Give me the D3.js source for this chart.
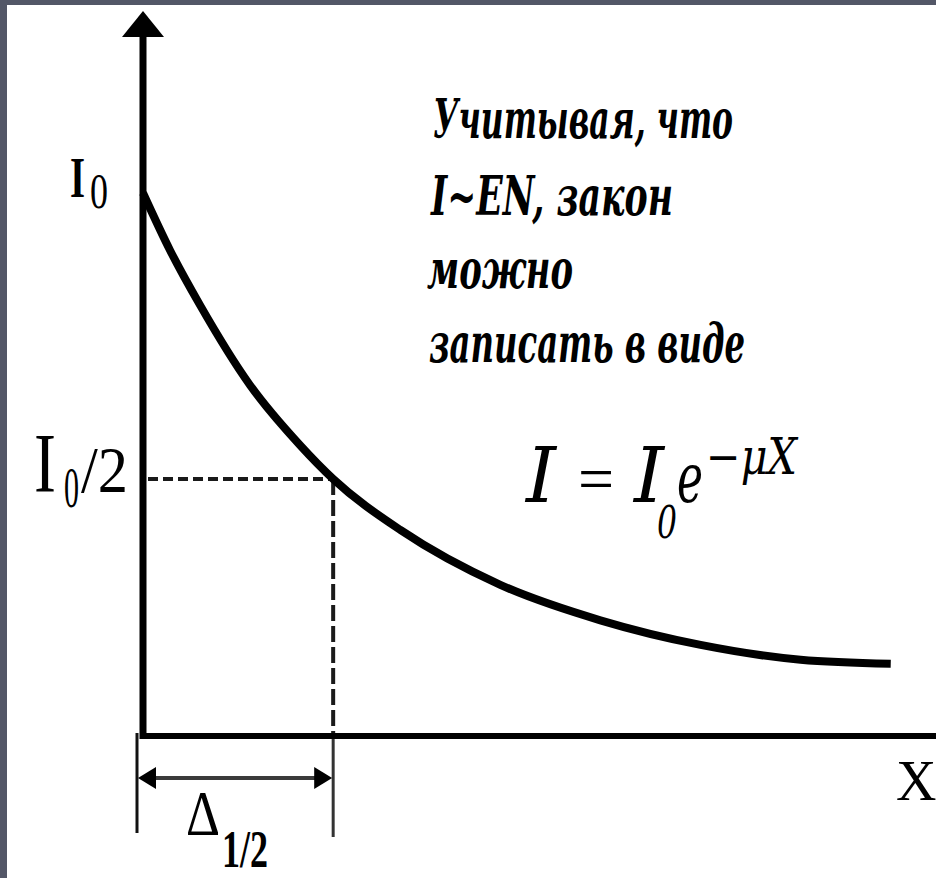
<!DOCTYPE html>
<html>
<head>
<meta charset="utf-8">
<script src="https://cdn.jsdelivr.net/npm/d3@7"></script>
<style>
  html, body { margin: 0; padding: 0; background: #535767; }
  svg { display: block; }
</style>
</head>
<body>
<svg id="chart" width="936" height="878"></svg>
<script>
// Attenuation curve I(x): x in units of the half-value thickness Δ1/2, I in units of I0
const curveX = [0, 0.142, 0.30, 0.563, 0.826, 1.0, 1.353, 1.879, 2.405, 2.932, 3.458, 3.932];
const curveI = [1.0, 0.900, 0.804, 0.664, 0.559, 0.5, 0.411, 0.315, 0.253, 0.210, 0.184, 0.177];

// Marked levels on the intensity axis and the half-value thickness on the X axis
const yTickValues = [1, 0.5];
const yTickMain = ["I", "I"];
const yTickSub = ["0", "0"];
const yTickTail = ["", "/2"];
const halfX = 1;
const halfI = 0.5;

// Annotation text
const noteLines = ["Учитывая, что", "I~EN, закон", "можно", "записать в виде"];

const svg = d3.select("#chart");
const W = 936, H = 878;

// white sheet with the frame strip on the left and top
svg.append("rect").attr("x", 7).attr("y", 5).attr("width", W - 7).attr("height", H - 5).attr("fill", "#ffffff");

const x = d3.scaleLinear().domain([0, 4.17]).range([143, 936]);
const y = d3.scaleLinear().domain([0.0525, 1]).range([735, 193]);

const serif = "'Liberation Serif', 'Times New Roman', serif";
const italicSerif = "'DejaVu Serif', 'Liberation Serif', serif";

function label(txt, px, py, size, o = {}) {
  const t = svg.append("text")
    .attr("x", px).attr("y", py)
    .attr("font-family", o.family || serif)
    .attr("font-size", size)
    .attr("font-weight", o.weight || "normal")
    .attr("font-style", o.style || "normal")
    .attr("fill", o.fill || "#000")
    .text(txt);
  if (o.len) t.attr("textLength", o.len).attr("lengthAdjust", "spacingAndGlyphs");
  return t;
}

// dashed guides to the half-value point
svg.append("line")
  .attr("x1", x(0) + 5).attr("x2", x(halfX))
  .attr("y1", y(halfI)).attr("y2", y(halfI))
  .attr("stroke", "#1a1a1a").attr("stroke-width", 4)
  .attr("stroke-dasharray", "10,5");
svg.append("line")
  .attr("x1", x(halfX)).attr("x2", x(halfX))
  .attr("y1", y(halfI)).attr("y2", y.range()[0])
  .attr("stroke", "#1a1a1a").attr("stroke-width", 4)
  .attr("stroke-dasharray", "16,5");

// extension lines of the Δ1/2 dimension
svg.append("line")
  .attr("x1", x(0) - 6).attr("x2", x(0) - 6)
  .attr("y1", y.range()[0] - 2).attr("y2", 833)
  .attr("stroke", "#111").attr("stroke-width", 3);
svg.append("line")
  .attr("x1", x(halfX)).attr("x2", x(halfX))
  .attr("y1", y.range()[0]).attr("y2", 837)
  .attr("stroke", "#333").attr("stroke-width", 3);

// dimension line with arrowheads
const dimY = 778;
const dx0 = x(0) - 5, dx1 = x(halfX) - 1;
svg.append("line")
  .attr("x1", dx0 + 14).attr("x2", dx1 - 14)
  .attr("y1", dimY).attr("y2", dimY)
  .attr("stroke", "#3a3a3a").attr("stroke-width", 4);
svg.append("path")
  .attr("d", `M${dx0},${dimY} L${dx0 + 18},${dimY - 11} L${dx0 + 18},${dimY + 11} Z`)
  .attr("fill", "#000");
svg.append("path")
  .attr("d", `M${dx1},${dimY} L${dx1 - 18},${dimY - 11} L${dx1 - 18},${dimY + 11} Z`)
  .attr("fill", "#000");

// axes
svg.append("line")
  .attr("x1", x(0) - 3).attr("x2", W)
  .attr("y1", y.range()[0] + 1).attr("y2", y.range()[0] + 1)
  .attr("stroke", "#000").attr("stroke-width", 6);
svg.append("line")
  .attr("x1", x(0)).attr("x2", x(0))
  .attr("y1", 36).attr("y2", y.range()[0] + 4)
  .attr("stroke", "#000").attr("stroke-width", 7);
svg.append("path")
  .attr("d", `M${x(0)},11 L${x(0) - 21},37 L${x(0) + 21},37 Z`)
  .attr("fill", "#000");

// the attenuation curve
const pts = curveX.map((v, i) => [v, curveI[i]]);
svg.append("path")
  .datum(pts)
  .attr("d", d3.line().x(d => x(d[0])).y(d => y(d[1])).curve(d3.curveMonotoneX))
  .attr("fill", "none")
  .attr("stroke", "#000")
  .attr("stroke-width", 8)
  .attr("stroke-linecap", "butt");

// intensity-axis labels
// I0
label(yTickMain[0], 70, y(yTickValues[0]) + 4, 56, { weight: "bold", len: 15 });
label(yTickSub[0], 90, y(yTickValues[0]) + 15, 50, { len: 18 });
// I0/2
label(yTickMain[1], 34, y(yTickValues[1]) + 13, 84, { len: 22 });
label(yTickSub[1], 64, y(yTickValues[1]) + 28, 58, { len: 15 });
label(yTickTail[1], 81, y(yTickValues[1]) + 13, 66, { len: 47 });

// X axis label
label("X", 896, 800, 56);

// Δ1/2 label
label("Δ", 186, 835, 64, { len: 34 });
label("1/2", 222, 867, 52, { weight: "bold", len: 46 });

// annotation
const noteX = [433, 431, 427, 429];
const noteY = [138, 215, 288, 362];
const noteLen = [300, 242, 146, 316];
noteLines.forEach((s, i) => {
  label(s, noteX[i], noteY[i], 54, { family: italicSerif, style: "italic", weight: "bold", len: noteLen[i] });
});

// formula I = I0 e^(−μX)
label("I", 526, 502, 76, { family: italicSerif, style: "italic", len: 30 });
label("=", 578, 500, 64);
label("I", 634, 502, 76, { family: italicSerif, style: "italic", len: 30 });
label("0", 657, 538, 44, { family: italicSerif, style: "italic", len: 20 });
label("e", 677, 502, 70, { family: italicSerif, style: "italic", len: 26 });
label("−μX", 706, 474, 50, { family: italicSerif, style: "italic", len: 91 });
</script>
</body>
</html>
